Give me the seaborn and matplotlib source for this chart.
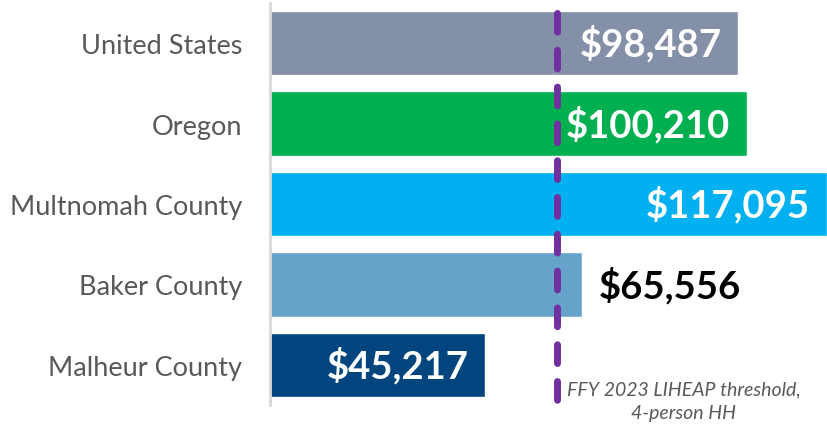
import matplotlib.pyplot as plt
import pandas as pd
import seaborn as sns

# Daten
regions = ['United States', 'Oregon', 'Multnomah County', 'Baker County', 'Malheur County']
income = [98487, 100210, 117095, 65556, 45217]
bar_colors = ['#8490A8', '#00B050', '#00B0F0', '#65A3CB', '#00457E']
label_inside = [True, True, True, False, True]
threshold = 60300
threshold_text = 'FFY 2023 LIHEAP threshold,\n4-person HH'

data = pd.DataFrame({'Region': regions, 'Income': income})

sns.set_style('white')
plt.rcParams['font.family'] = ['Lato', 'DejaVu Sans']

fig = plt.figure(figsize=(8.27, 4.27), dpi=100)
ax = fig.add_axes([270 / 827, 1 - 406 / 427, 1 - 270 / 827, 402 / 427])

sns.barplot(x='Income', y='Region', data=data, hue='Region', palette=bar_colors,
            legend=False, width=0.8, saturation=1, ax=ax)

ax.set_xlim(0, max(income))
ax.set_ylim(4.5, -0.5)
ax.set_xlabel('')
ax.set_ylabel('')
ax.set_xticks([])
ax.tick_params(axis='y', length=0, pad=20, labelsize=19.5, labelcolor='#595959')
for side in ['top', 'right', 'bottom']:
    ax.spines[side].set_visible(False)
ax.spines['left'].set_color('#D9D9D9')
ax.spines['left'].set_linewidth(2)

# Werte beschriften
for i, (val, inside) in enumerate(zip(income, label_inside)):
    if inside:
        ax.annotate(f'${val:,}', xy=(val, i), xytext=(-12, 0), textcoords='offset points',
                    ha='right', va='center', fontsize=27.5, fontweight='bold', color='white')
    else:
        ax.annotate(f'${val:,}', xy=(val, i), xytext=(12, 0), textcoords='offset points',
                    ha='left', va='center', fontsize=27.5, fontweight='bold', color='black')

# Schwellenwert-Linie
ax.plot([threshold, threshold], [-0.38, 4.52], color='#7030A0', lw=5,
        linestyle=(0, (2.7, 2.6)), dash_capstyle='round', clip_on=False, zorder=3)
ax.text(0.743 * max(income), 4.45, threshold_text, ha='center', va='center',
        fontsize=14, style='italic', color='#595959', linespacing=1.45, clip_on=False)

fig.savefig('out.png', dpi=100)
